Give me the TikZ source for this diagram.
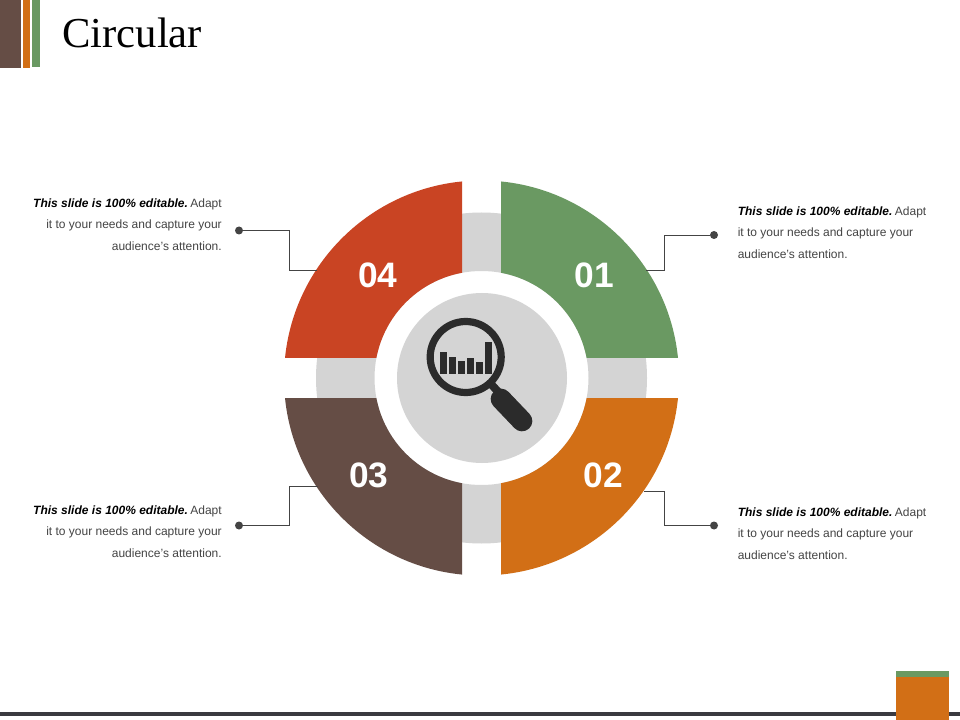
\documentclass[tikz,border=0pt]{standalone}
\usepackage{fontspec}
\setmainfont{Liberation Sans}
\newfontfamily\titlefont{Liberation Serif}
\definecolor{cgreen}{HTML}{6A9962}
\definecolor{corange}{HTML}{D26F16}
\definecolor{cbrown}{HTML}{654D45}
\definecolor{cred}{HTML}{C94423}
\definecolor{cgray}{HTML}{D4D4D4}
\definecolor{cdark}{HTML}{2B2B2B}
\definecolor{ctext}{HTML}{444444}
\definecolor{cline}{HTML}{3A3A40}
\newcommand{\blurb}{\textbf{\textit{\color{black}This slide is 100\% editable.}}\hspace{1.8pt}Adapt\\it to your needs and capture your\\audience's attention.}
\tikzset{
  x=0.75pt,y=-0.75pt,
  note/.style={font=\fontsize{9}{16.1}\selectfont,text=ctext,inner sep=0pt},
  noteL/.style={note,anchor=east,align=right},
  noteR/.style={note,anchor=west,align=left},
  num/.style={font=\fontsize{26.5}{27}\selectfont\bfseries,text=white,inner sep=0pt},
  dotnode/.style={circle,fill=ctext,inner sep=0pt,minimum size=6pt},
  conn/.style={draw=ctext,line width=0.7pt},
  bar/.style={fill=cdark}
}
\newcommand{\quadrant}[5]{\begin{scope}\clip (#1,#2) rectangle (#3,#4);
\fill[#5,even odd rule] (481.5,378) circle[radius=197.5] (481.5,378) circle[radius=107];\end{scope}}
\begin{document}
\begin{tikzpicture}
\useasboundingbox (0,0) rectangle (960,720);
\fill[white] (0,0) rectangle (960,720);
% header
\fill[cbrown] (0,0) rectangle (21,68);
\fill[corange] (23,0) rectangle (30,68);
\fill[cgreen] (32,0) rectangle (40,67);
\node[font=\titlefont\fontsize{32}{36}\selectfont,anchor=base west,inner sep=0pt,text=black] (title) at (62,48) {Circular};
% footer
\fill[cline] (0,712) rectangle (960,716);
\fill[corange] (896,671) rectangle (949,720);
\fill[cgreen] (896,671) rectangle (949,677);
% ring
\fill[cgray,even odd rule] (481.5,378) circle[radius=165.5] (481.5,378) circle[radius=107];
\quadrant{501}{170}{690}{357.7}{cgreen}
\quadrant{501}{398}{690}{590}{corange}
\quadrant{270}{398}{462}{590}{cbrown}
\quadrant{270}{170}{462}{357.7}{cred}
\fill[cgray] (482,378) circle[radius=85];
% magnifier
\draw[cdark,line width=5.4pt] (465.7,357) circle[radius=35.5];
\draw[cdark,line width=6pt] (489,382) -- (504,398);
\draw[cdark,line width=15.5pt,line cap=round] (501,399) -- (522,421);
\fill[bar] (440,352) rectangle (447,374);
\fill[bar] (449,357) rectangle (456,374);
\fill[bar] (458,361) rectangle (465,374);
\fill[bar] (467,358) rectangle (474,374);
\fill[bar] (476,362) rectangle (483,374);
\fill[bar] (485,342) rectangle (492,374);
% numbers
\node[num] (n1) at (594,275) {01};
\node[num] (n2) at (603,475) {02};
\node[num] (n3) at (369,475) {03};
\node[num] (n4) at (378,275) {04};
% notes
\node[noteR] (t1) at (737.5,232.5) {\blurb};
\node[noteR] (t2) at (737.5,533.5) {\blurb};
\node[noteL] (t3) at (222,531.5) {\blurb};
\node[noteL] (t4) at (222,224.5) {\blurb};
% connectors
\node[dotnode] (d1) at (714,235) {};
\node[dotnode] (d2) at (714,525.5) {};
\node[dotnode] (d3) at (239,525.5) {};
\node[dotnode] (d4) at (239,230.5) {};
\coordinate (e1) at (646,270);
\coordinate (e2) at (644,491);
\coordinate (e3) at (318,486);
\coordinate (e4) at (317,270);
\draw[conn] (d1) -- (664,235) -- (664,270) -- (e1);
\draw[conn] (d2) -- (664,525.5) -- (664,491) -- (e2);
\draw[conn] (d3) -- (289,525.5) -- (289,486) -- (e3);
\draw[conn] (d4) -- (289,230.5) -- (289,270) -- (e4);
\end{tikzpicture}
\end{document}
